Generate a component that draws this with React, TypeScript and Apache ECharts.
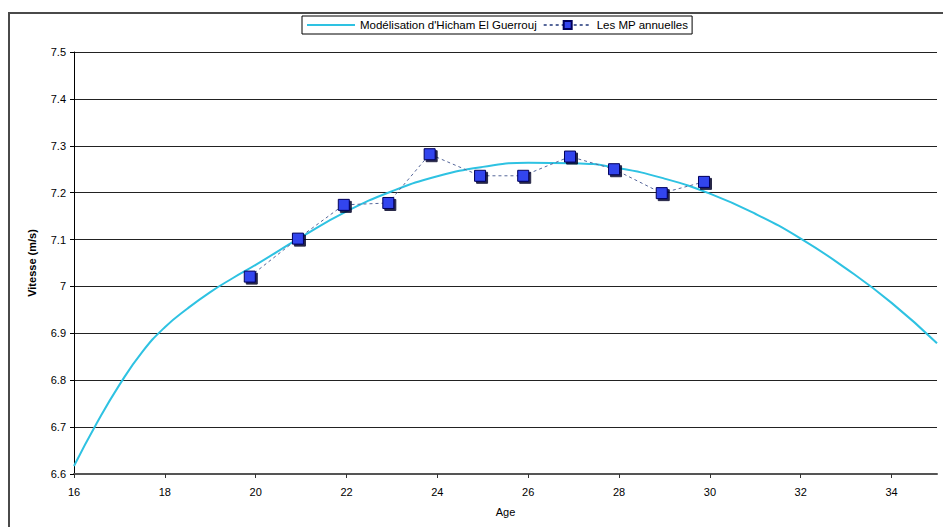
import React, { useEffect, useRef } from "react";
import * as echarts from "echarts";

const seriesModelName = "Modélisation d'Hicham El Guerrouj";
const seriesDataName = "Les MP annuelles";

// Annual best performances (age, speed m/s)
const ages = [19.87, 20.93, 21.94, 22.92, 23.83, 24.94, 25.89, 26.92, 27.89, 28.94, 29.87];
const speeds = [7.021, 7.102, 7.174, 7.178, 7.282, 7.236, 7.236, 7.277, 7.25, 7.199, 7.223];

// Model curve
const modelAges = [16, 16.5, 17, 17.5, 18, 18.5, 19, 19.5, 20, 21, 22, 23, 24, 25, 26, 27, 28, 29, 30, 31, 32, 33, 34, 35];
const modelSpeeds = [6.617, 6.708, 6.79, 6.86, 6.913, 6.953, 6.988, 7.018, 7.046, 7.105, 7.16, 7.203, 7.235, 7.255, 7.264, 7.263, 7.252, 7.23, 7.198, 7.155, 7.102, 7.038, 6.965, 6.879];

const FONT = "'Liberation Sans', Arial, sans-serif";

export default function App() {
  const ref = useRef<HTMLDivElement>(null);

  useEffect(() => {
    if (!ref.current) return;
    const chart = echarts.init(ref.current, null, { renderer: "svg" });
    chart.setOption({
      animation: false,
      backgroundColor: "#ffffff",
      textStyle: { fontFamily: FONT },
      graphic: [
        {
          type: "rect",
          z: -10,
          silent: true,
          shape: { x: 9, y: 13, width: 1000, height: 600 },
          style: { fill: "none", stroke: "#4a4a4a", lineWidth: 2 },
        },
      ],
      legend: {
        left: 302,
        top: 16,
        orient: "horizontal",
        borderColor: "#000",
        borderWidth: 1,
        padding: [3, 4, 3, 4],
        itemGap: 6,
        itemWidth: 48,
        itemHeight: 10,
        textStyle: { fontFamily: FONT, fontSize: 11.5, color: "#000" },
        data: [
          { name: seriesModelName, itemStyle: { opacity: 0 } },
          { name: seriesDataName },
        ],
      },
      grid: { left: 74, right: 6, top: 52, bottom: 53, containLabel: false },
      xAxis: {
        type: "value",
        min: 16,
        max: 35,
        interval: 2,
        name: "Age",
        nameLocation: "middle",
        nameGap: 32,
        nameTextStyle: { fontFamily: FONT, fontSize: 11, color: "#000" },
        axisLine: { show: true, lineStyle: { color: "#555", width: 2 } },
        axisTick: { show: true, length: 4, lineStyle: { color: "#333" } },
        axisLabel: {
          showMaxLabel: false,
          margin: 12,
          fontFamily: FONT,
          fontSize: 11,
          color: "#000",
        },
        splitLine: { show: false },
      },
      yAxis: {
        type: "value",
        min: 6.6,
        max: 7.5,
        interval: 0.1,
        name: "Vitesse (m/s)",
        nameLocation: "middle",
        nameGap: 37,
        nameTextStyle: { fontFamily: FONT, fontSize: 11, fontWeight: "bold", color: "#000" },
        axisLine: { show: true, lineStyle: { color: "#000", width: 1 } },
        axisTick: { show: true, length: 4, lineStyle: { color: "#000" } },
        axisLabel: {
          margin: 8,
          fontFamily: FONT,
          fontSize: 11,
          color: "#000",
          formatter: (v: number) => String(Math.round(v * 10) / 10),
        },
        splitLine: { show: true, lineStyle: { color: "#222", width: 1 } },
      },
      series: [
        {
          name: seriesModelName,
          type: "line",
          data: modelAges.map((a, i) => [a, modelSpeeds[i]]),
          smooth: 0.5,
          showSymbol: false,
          symbol: "none",
          clip: true,
          color: "#2ec2e2",
          lineStyle: { color: "#2ec2e2", width: 2 },
          z: 2,
        },
        {
          name: seriesDataName,
          type: "line",
          data: ages.map((a, i) => [a, speeds[i]]),
          symbol: "rect",
          symbolSize: 11,
          color: "#3344ee",
          lineStyle: { color: "#56679a", width: 1, type: [3, 3] },
          itemStyle: {
            color: "#3344ee",
            borderColor: "#00005a",
            borderWidth: 1,
            shadowColor: "rgba(0,0,40,0.85)",
            shadowOffsetX: 2,
            shadowOffsetY: 2,
            shadowBlur: 0,
          },
          z: 3,
        },
      ],
    });
    return () => chart.dispose();
  }, []);

  return (
    <div
      ref={ref}
      style={{ position: "fixed", left: 0, top: 0, width: 943, height: 527 }}
    />
  );
}
